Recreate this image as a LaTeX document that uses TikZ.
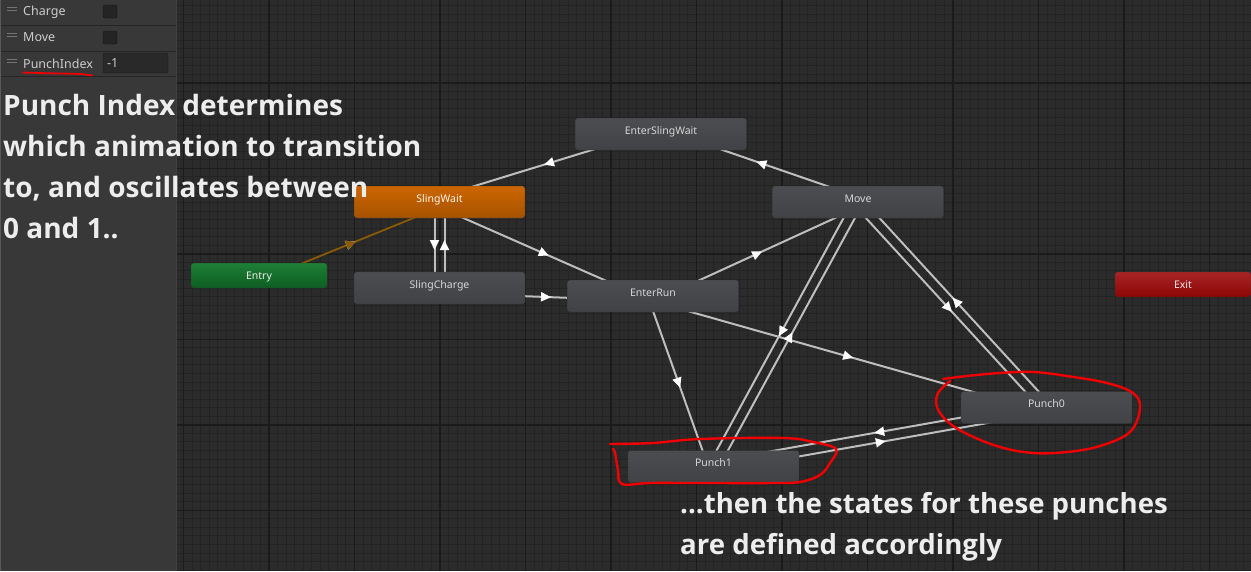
\documentclass[tikz,border=0pt]{standalone}
\usepackage{fontspec}
\setmainfont{Noto Sans}
\newfontfamily\notefont{Open Sans}
\usetikzlibrary{calc,arrows.meta,decorations.markings}

\definecolor{canvas}{HTML}{2B2B2B}
\definecolor{minorln}{HTML}{232323}
\definecolor{majorln}{HTML}{1B1B1B}
\definecolor{panel}{HTML}{383838}
\definecolor{panelln}{HTML}{262626}
\definecolor{nodetop}{HTML}{4C4D50}
\definecolor{nodebot}{HTML}{414245}
\definecolor{nodetext}{HTML}{D6D6D6}
\definecolor{transgray}{HTML}{BEBEBE}
\definecolor{entryline}{HTML}{8A5A05}
\definecolor{entrytop}{HTML}{1E7F36}
\definecolor{entrybot}{HTML}{0D5E22}
\definecolor{exittop}{HTML}{A82424}
\definecolor{exitbot}{HTML}{8C0606}
\definecolor{scribble}{HTML}{F00000}
\definecolor{notetext}{HTML}{EDEDED}

\pgfdeclarelayer{grid}
\pgfdeclarelayer{edges}
\pgfsetlayers{grid,edges,main}

\tikzset{
  state/.style      = {rectangle, rounded corners=2.5, minimum width=171, minimum height=32,
                       inner xsep=0, inner ysep=0, text height=16, text depth=16,
                       top color=nodetop, bottom color=nodebot, draw=black!80, line width=0.4,
                       text=nodetext, font=\fontsize{10.5}{12}\selectfont},
  endstate/.style   = {state, minimum width=136, minimum height=25, text height=16.2, text depth=8.8},
  trans/.style      = {draw=transgray, line width=2, postaction={decorate},
                       decoration={markings, mark=at position 0.5 with
                         {\pgftransformxshift{5pt}\arrow{Triangle[length=10pt,width=9pt,color=white]}}}},
  entrytrans/.style = {trans, draw=entryline, line width=1.8,
                       decoration={markings, mark=at position 0.5 with
                         {\pgftransformxshift{5pt}\arrow{Triangle[length=10pt,width=9pt,color=entryline]}}}},
  param/.style      = {anchor=west, inner sep=0, text=black!20, font=\fontsize{12.5}{14}\selectfont},
  note/.style       = {anchor=north west, inner sep=0, align=left, text=notetext,
                       font=\notefont\bfseries\fontsize{28}{41}\selectfont},
  scrawl/.style     = {draw=scribble, line width=2.4, line cap=round, line join=round},
}

% transition between two states, shifted to one side
\newcommand\transit[3][trans]{\draw[#1] ($(#2)!5pt!-90:(#3)$) -- ($(#3)!5pt!90:(#2)$);}

\begin{document}
\begin{tikzpicture}[x=1pt, y=-1pt]
  \useasboundingbox (0,0) rectangle (1251,571);

  % canvas, grid and parameter panel
  \begin{pgfonlayer}{grid}
    \fill[canvas] (0,0) rectangle (1251,571);
    \foreach \i in {0,...,146} \draw[minorln, line width=1] ({12.5+8.55*\i},0) -- ++(0,571);
    \foreach \i in {0,...,68}  \draw[minorln, line width=1] (0,{-2.7+8.55*\i}) -- ++(1251,0);
    \foreach \i in {0,...,14}  \draw[majorln, line width=1.5] ({12.5+85.5*\i},0) -- ++(0,571);
    \foreach \i in {0,...,6}   \draw[majorln, line width=1.5] (0,{-2.7+85.5*\i}) -- ++(1251,0);
    \fill[panel] (0,0) rectangle (176,571);
    \draw[black!75, line width=1.5] (176.5,0) -- (176.5,571);
    \draw[black!65, line width=1.2] (0.6,0) -- (0.6,571);
    \foreach \y in {25,51,76} \draw[panelln, line width=1] (1,\y) -- (176,\y);
    \foreach \y in {7.5,33.3,59.3} {
      \draw[black!55, line width=0.9] (7,\y) -- (17,\y);
      \draw[black!55, line width=0.9] (7,\y+2.7) -- (17,\y+2.7);
    }
    \filldraw[fill=black!86, draw=black!92, rounded corners=2] (103,5) rectangle (117,18);
    \filldraw[fill=black!86, draw=black!92, rounded corners=2] (103,31) rectangle (117,44);
    \filldraw[fill=black!84, draw=black!90, rounded corners=2] (103,53) rectangle (168,73);
  \end{pgfonlayer}

  \node[param] (pcharge) at (23,12)   {Charge};
  \node[param] (pmove)   at (23,37.5) {Move};
  \node[param] (pindex)  at (23,63.5) {PunchIndex};
  \node[param] (pvalue)  at (107,63)  {-1};

  % states
  \node[endstate, top color=entrytop, bottom color=entrybot, text=black!8] (entry) at (259,275.5) {Entry};
  \node[endstate, top color=exittop, bottom color=exitbot, text=black!8] (exit) at (1183,284.5) {Exit};
  \node[state, top color=orange!80!black, bottom color=orange!65!black, text=white!92!orange] (slingwait) at (439.5,202) {SlingWait};
  \node[state] (slingcharge)    at (439.5,288) {SlingCharge};
  \node[state] (enterslingwait) at (661,134)   {EnterSlingWait};
  \node[state] (move)           at (858,202)   {Move};
  \node[state] (enterrun)       at (653,296)   {EnterRun};
  \node[state] (punch0)         at (1046.5,407.5) {Punch0};
  \node[state] (punch1)         at (713.5,466.5)  {Punch1};

  % transitions
  \begin{pgfonlayer}{edges}
    \transit[entrytrans]{entry}{slingwait}
    \transit{slingwait}{slingcharge}
    \transit{slingcharge}{slingwait}
    \transit{enterslingwait}{slingwait}
    \transit{move}{enterslingwait}
    \transit{slingwait}{enterrun}
    \transit{slingcharge}{enterrun}
    \transit{enterrun}{move}
    \transit{enterrun}{punch1}
    \transit{enterrun}{punch0}
    \transit{move}{punch1}
    \transit{punch1}{move}
    \transit{move}{punch0}
    \transit{punch0}{move}
    \transit{punch0}{punch1}
    \transit{punch1}{punch0}
  \end{pgfonlayer}

  % red marks
  \draw[scrawl, line width=1.8] plot[smooth] coordinates {(23,72.5) (50,73.3) (80,74) (92,75.5)};
  \draw[scrawl] plot[smooth, tension=0.6] coordinates {(943,379) (967,376) (1000,373) (1033,372) (1067,376)
    (1107,383) (1133,393) (1140,408) (1130,432) (1100,446) (1067,452) (1033,453) (1000,447) (967,434)
    (947,421) (937,407) (938,393) (950,381)};
  \draw[scrawl] plot[smooth, tension=0.6] coordinates {(610,444) (653,443) (700,439) (783,438) (813,442)
    (836,449) (830,463) (820,475) (800,482) (773,483) (700,483) (650,483) (622,484) (618,470) (615,453) (613,449)};

  % notes
  \node[note] (notetop) at (3,93.7) {Punch Index determines\\which animation to transition\\to, and oscillates between\\0 and 1..};
  \node[note, font=\notefont\bfseries\fontsize{27.6}{41}\selectfont] (notebottom) at (680,492) {...then the states for these punches\\are defined accordingly};
\end{tikzpicture}
\end{document}
